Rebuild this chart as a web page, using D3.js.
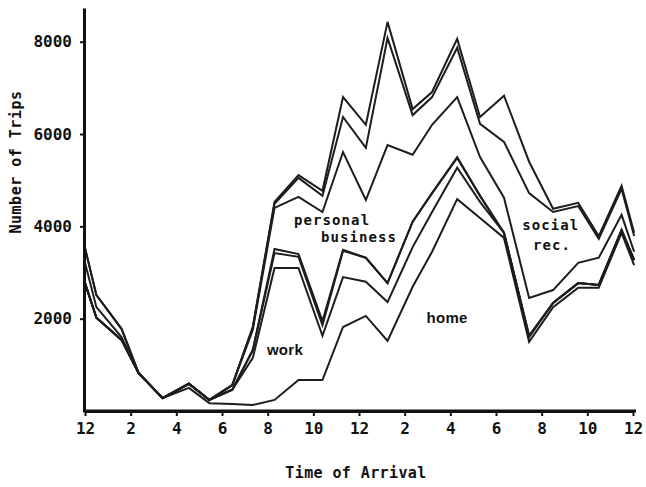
<!DOCTYPE html>
<html>
<head>
<meta charset="utf-8">
<script src="https://cdn.jsdelivr.net/npm/d3@7"></script>
<style>
  html, body { margin: 0; padding: 0; background: #fff; }
  svg { display: block; }
  .mono { font-family: "DejaVu Sans Mono", monospace; font-weight: bold; fill: #111; }
  .sans { font-family: "Liberation Sans", Arial, sans-serif; font-weight: bold; fill: #111; }
</style>
</head>
<body>
<svg id="chart" width="646" height="487"></svg>
<script>
// Arrival time of each reading, in hours after midnight
const hours = [0, 0.5, 1.6, 2.35, 3.4, 4.55, 5.45, 6.45, 7.35, 8.3, 9.35, 10.4, 11.3,
               12.3, 13.25, 14.35, 15.2, 16.3, 17.3, 18.35, 19.45, 20.5, 21.6, 22.5, 23.5, 24.05];

// Cumulative trip counts, bottom band first (each curve is the running total up to that purpose)
const cumHome     = [2770, 2020, 1540, 820, 280, 500, 170, 150, 130, 240, 670, 670, 1820,
                     2060, 1520, 2690, 3450, 4590, 4180, 3750, 1500, 2250, 2670, 2670, 3860, 3160];
const cumWork     = [2770, 2020, 1540, 820, 280, 590, 240, 460, 1150, 3100, 3100, 1630, 2900,
                     2800, 2360, 3550, 4310, 5270, 4530, 3860, 1600, 2340, 2770, 2730, 3920, 3270];
const cumBand3    = [2770, 2020, 1540, 820, 280, 590, 240, 460, 1320, 3420, 3340, 1860, 3470,
                     3320, 2770, 4100, 4720, 5480, 4660, 3860, 1630, 2340, 2770, 2730, 3920, 3270];
const cumBand4    = [2770, 2020, 1540, 820, 280, 590, 240, 460, 1320, 3510, 3400, 1950, 3490,
                     3320, 2770, 4100, 4720, 5500, 4660, 3860, 1630, 2340, 2770, 2730, 3920, 3270];
const cumPersonal = [3210, 2250, 1600, 820, 280, 590, 240, 560, 1760, 4400, 4640, 4310, 5610,
                     4570, 5760, 5550, 6200, 6800, 5500, 4620, 2450, 2620, 3210, 3320, 4250, 3450];
const cumSocial   = [3530, 2510, 1780, 820, 280, 590, 240, 560, 1820, 4490, 5050, 4660, 6370,
                     5700, 8080, 6410, 6800, 7870, 6220, 5830, 4720, 4310, 4440, 3730, 4810, 3790];
const cumTotal    = [3530, 2510, 1780, 820, 280, 590, 240, 560, 1820, 4530, 5110, 4770, 6800,
                     6200, 8430, 6540, 6910, 8060, 6370, 6830, 5400, 4380, 4510, 3790, 4880, 3860];

const curves = [cumHome, cumWork, cumBand3, cumBand4, cumPersonal, cumSocial, cumTotal];

// Axis ticks
const xTickHours  = [0, 2, 4, 6, 8, 10, 12, 14, 16, 18, 20, 22, 24];
const xTickLabels = ["12", "2", "4", "6", "8", "10", "12", "2", "4", "6", "8", "10", "12"];
const yTickValues = [2000, 4000, 6000, 8000];

// Band labels, centred on (h, v)
const bandLabels = [
  { text: "personal", h: 10.82, v: 4030, cls: "mono" },
  { text: "business", h: 12.0,  v: 3660, cls: "mono" },
  { text: "social",   h: 20.4,  v: 3920, cls: "mono" },
  { text: "rec.",     h: 20.45, v: 3490, cls: "mono" },
  { text: "work",     h: 8.76,  v: 1210, cls: "sans" },
  { text: "home",     h: 15.86, v: 1900, cls: "sans" }
];

const svg = d3.select("#chart");

const x = d3.scaleLinear().domain([0, 24]).range([85, 633]);
const y = d3.scaleLinear().domain([0, 8730]).range([411, 8]);

const line = d3.line()
  .x((d, i) => x(hours[i]))
  .y(d => y(d));

svg.append("g")
  .selectAll("path")
  .data(curves)
  .join("path")
  .attr("d", d => line(d))
  .attr("fill", "none")
  .attr("stroke", "#1d1d1d")
  .attr("stroke-width", 2)
  .attr("stroke-linejoin", "miter");

// X axis
const xAxis = svg.append("g")
  .attr("transform", `translate(0,${y(0)})`)
  .call(d3.axisBottom(x)
    .tickValues(xTickHours)
    .tickFormat((d, i) => xTickLabels[i])
    .tickSize(5)
    .tickSizeOuter(0)
    .tickPadding(7));

// Y axis
const yAxis = svg.append("g")
  .attr("transform", `translate(${x(0) - 1},0)`)
  .call(d3.axisLeft(y)
    .tickValues(yTickValues)
    .tickFormat(d3.format("d"))
    .tickSize(4)
    .tickSizeOuter(0)
    .tickPadding(8));

[xAxis, yAxis].forEach(g => {
  g.select(".domain").attr("stroke", "#111").attr("stroke-width", 3);
  g.selectAll(".tick line").attr("stroke", "#111").attr("stroke-width", 2);
  g.selectAll(".tick text")
    .attr("class", "mono")
    .style("font-size", "16px")
    .attr("fill", "#111");
});

// extend the x-axis line slightly past the last tick
svg.append("line")
  .attr("x1", x(0) - 2).attr("x2", x(24) + 3)
  .attr("y1", y(0)).attr("y2", y(0))
  .attr("stroke", "#111").attr("stroke-width", 3);

// Band labels
svg.append("g")
  .selectAll("text")
  .data(bandLabels)
  .join("text")
  .attr("class", d => d.cls)
  .attr("x", d => x(d.h))
  .attr("y", d => y(d.v))
  .attr("text-anchor", "middle")
  .style("font-size", d => d.cls === "mono" ? "14px" : "15px")
  .style("letter-spacing", d => d.cls === "mono" ? "1.1px" : "0.3px")
  .text(d => d.text);

// Axis titles
svg.append("text")
  .attr("class", "mono")
  .attr("transform", "translate(21,162) rotate(-90)")
  .attr("text-anchor", "middle")
  .style("font-size", "15px")
  .style("letter-spacing", "0.5px")
  .text("Number of Trips");

svg.append("text")
  .attr("class", "mono")
  .attr("x", 356)
  .attr("y", 478)
  .attr("text-anchor", "middle")
  .style("font-size", "15px")
  .style("letter-spacing", "0.4px")
  .text("Time of Arrival");
</script>
</body>
</html>
